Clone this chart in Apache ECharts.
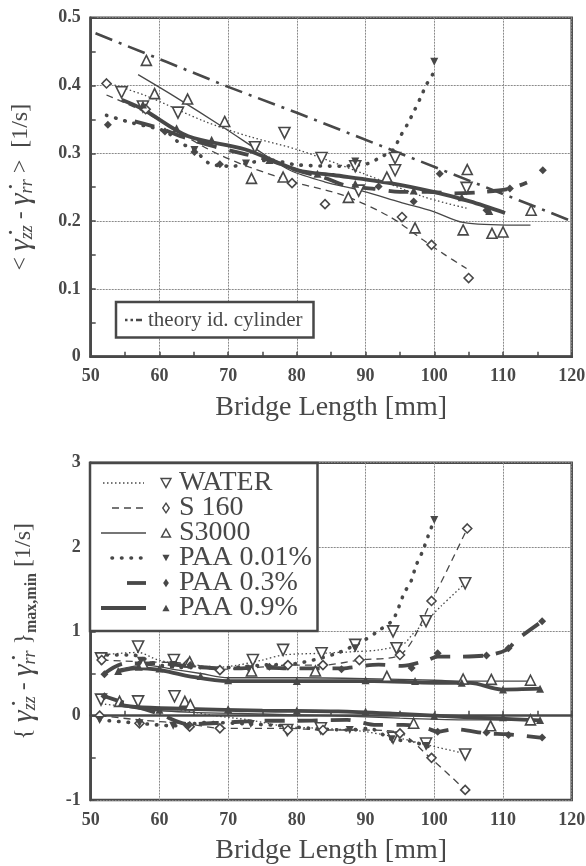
<!DOCTYPE html>
<html>
<head>
<meta charset="utf-8">
<script src="https://cdn.jsdelivr.net/npm/echarts@6/dist/echarts.min.js"></script>
<style>
html, body { margin: 0; padding: 0; background: #fff; }
#chart { width: 586px; height: 866px; }
</style>
</head>
<body>
<div id="chart"></div>
<script>
// values: [bridge length mm, value]
const xTicks = [50, 60, 70, 80, 90, 100, 110, 120];
const legendNames = ['WATER', 'S 160', 'S3000', 'PAA 0.01%', 'PAA 0.3%', 'PAA 0.9%'];
const theoryName = 'theory id. cylinder';

// --- top: mean strain rate ---
const theoryTop = [[50.7, 0.477], [61, 0.435], [70, 0.398], [80.2, 0.359], [94.5, 0.302], [110, 0.24], [120, 0.2]];
const waterFitTop = [[51.8, 0.406], [58, 0.385], [66.6, 0.347], [73, 0.325], [80.2, 0.305], [89.7, 0.27], [98.4, 0.236], [104.7, 0.219]];
const waterPtsTop = [[54.5, 0.39], [57.6, 0.369], [62.7, 0.36], [73.9, 0.309], [78.2, 0.33], [83.6, 0.293], [88.5, 0.281], [89, 0.245], [94.3, 0.293], [94.3, 0.275], [104.7, 0.249]];
const s160FitTop = [[52.3, 0.386], [58, 0.36], [67.3, 0.305], [73, 0.28], [80.2, 0.256], [86.8, 0.238], [93.6, 0.206], [98.4, 0.172], [101.3, 0.152], [104.7, 0.13]];
const s160PtsTop = [[52.3, 0.403], [58, 0.365], [79.3, 0.256], [84.1, 0.225], [95.3, 0.206], [99.6, 0.165], [105, 0.116]];
const s3000FitTop = [[56.9, 0.416], [62, 0.385], [69.5, 0.337], [75, 0.3], [79, 0.275], [84, 0.258], [89.7, 0.244], [95, 0.228], [99.9, 0.214], [104.2, 0.198], [111.8, 0.194], [114, 0.194]];
const s3000PtsTop = [[58.1, 0.437], [59.3, 0.388], [64.1, 0.38], [69.5, 0.347], [73.4, 0.263], [78, 0.265], [87.5, 0.235], [93.1, 0.265], [97.2, 0.19], [104.2, 0.187], [104.8, 0.276], [108.4, 0.182], [110, 0.184], [114.1, 0.216]];
const paa001FitTop = [[52.3, 0.356], [56, 0.345], [61, 0.332], [62.7, 0.317], [65.1, 0.305], [67.3, 0.285], [70.7, 0.281], [72.6, 0.285], [76, 0.29], [80, 0.283], [86.3, 0.281], [90.4, 0.285], [92.1, 0.294], [94, 0.305], [95, 0.324], [96.1, 0.343], [97.1, 0.363], [98, 0.382], [98.9, 0.402], [100, 0.42]];
const paa001PtsTop = [[65.1, 0.305], [72.6, 0.285], [88.5, 0.288], [100, 0.435]];
const paa03FitTop = [[56.4, 0.347], [60, 0.337], [64, 0.322], [68, 0.31], [72, 0.3], [76, 0.29], [80, 0.275], [84, 0.264], [87.3, 0.252], [91, 0.248], [95, 0.243], [99, 0.243], [103, 0.241], [107, 0.243], [111, 0.248], [113.5, 0.257]];
const paa03PtsTop = [[52.5, 0.342], [60.8, 0.332], [65.1, 0.302], [68.8, 0.284], [91.9, 0.251], [97, 0.229], [100.8, 0.27], [107.6, 0.216], [111, 0.248], [115.8, 0.275]];
const paa09FitTop = [[54.5, 0.379], [57.6, 0.365], [64.2, 0.325], [72.4, 0.306], [80.2, 0.275], [85.3, 0.268], [93.6, 0.256], [99.9, 0.243], [105.2, 0.229], [110.3, 0.212]];
const paa09PtsTop = [[57.6, 0.372], [62.5, 0.337], [67.6, 0.32], [76, 0.29], [83, 0.27], [88.5, 0.255], [97, 0.245], [104, 0.235], [108, 0.215]];

// --- bottom: max and min branches ---
const waterMaxFit = [[51.5, 0.72], [56.9, 0.75], [59.8, 0.66], [64, 0.6], [68, 0.57], [71.4, 0.6], [75, 0.66], [78, 0.72], [83.6, 0.74], [88.5, 0.76], [92, 0.78], [95.5, 0.85], [97, 0.98], [98.8, 1.12], [101, 1.3], [104.5, 1.57]];
const waterMaxPts = [[51.5, 0.68], [56.9, 0.82], [62.1, 0.66], [73.6, 0.66], [78, 0.78], [83.6, 0.74], [88.5, 0.84], [94, 1.0], [94.5, 0.8], [98.8, 1.12], [104.5, 1.57]];
const waterMinFit = [[51.5, 0.14], [56.9, 0.1], [62, 0.08], [68, 0.0], [73, -0.05], [78.6, -0.13], [83.5, -0.15], [89, -0.18], [93.8, -0.245], [98.9, -0.345], [104.5, -0.45]];
const waterMinPts = [[51.5, 0.19], [56.9, 0.17], [62.2, 0.23], [78.6, -0.17], [83.5, -0.15], [94, -0.26], [98.8, -0.33], [104.5, -0.46]];
const s160MaxFit = [[51.6, 0.66], [57, 0.64], [64.2, 0.62], [68.8, 0.55], [74, 0.57], [78.7, 0.6], [83.8, 0.6], [89.1, 0.66], [95, 0.72], [99.6, 1.36], [104.8, 2.22]];
const s160MaxPts = [[51.6, 0.66], [64.2, 0.62], [68.8, 0.54], [78.7, 0.6], [83.8, 0.6], [89.1, 0.66], [95, 0.72], [99.6, 1.36], [104.8, 2.22]];
const s160MinFit = [[51.3, 0.0], [57.1, -0.05], [64.4, -0.1], [68.8, -0.15], [78.7, -0.15], [83.8, -0.17], [89, -0.17], [94.5, -0.19], [99.4, -0.5], [104.5, -0.88]];
const s160MinPts = [[51.3, 0.0], [57.1, -0.09], [64.4, -0.13], [68.8, -0.15], [78.7, -0.17], [83.8, -0.17], [95, -0.21], [99.6, -0.5], [104.5, -0.88]];
const s3000MaxFit = [[54, 0.55], [58, 0.6], [62, 0.55], [66, 0.5], [70, 0.45], [80, 0.45], [90, 0.44], [100, 0.42], [105, 0.41], [114, 0.41]];
const s3000MaxPts = [[57.6, 0.62], [64.4, 0.64], [73.4, 0.53], [82.7, 0.53], [93.1, 0.466], [104.2, 0.435], [108.3, 0.43], [114, 0.42]];
const s3000MinFit = [[54, 0.12], [58, 0.07], [65, 0.04], [75, 0.02], [85, 0.0], [95, -0.03], [105, -0.05], [115, -0.05]];
const s3000MinPts = [[54.2, 0.17], [63.7, 0.17], [64.5, 0.13], [97, -0.09], [108.2, -0.12], [114, -0.05]];
const paa001MaxFit = [[51, 0.72], [56, 0.72], [60, 0.6], [65, 0.57], [70, 0.57], [75, 0.6], [80, 0.62], [85.8, 0.74], [89.9, 0.9], [92.1, 1.02], [94, 1.14], [95.6, 1.45], [96.7, 1.61], [97.3, 1.77], [98.3, 1.95], [99.1, 2.13], [100, 2.32]];
const paa001MaxPts = [[57.3, 0.65], [62, 0.6], [73, 0.55], [88.5, 0.8], [100, 2.32]];
const paa001MinFit = [[51.3, -0.05], [57.1, -0.09], [62, -0.12], [67, -0.08], [73.3, -0.1], [78, -0.12], [82, -0.15], [87.7, -0.17], [90.5, -0.15], [93.8, -0.28], [96.5, -0.3], [98.9, -0.36], [100, -0.38]];
const paa001MinPts = [[51.3, -0.05], [57.1, -0.09], [62, -0.12], [73.3, -0.1], [87.7, -0.17], [93.8, -0.28], [98.9, -0.36]];
const paa03MaxFit = [[52, 0.5], [55, 0.62], [60, 0.62], [65, 0.58], [70, 0.56], [75, 0.57], [80, 0.56], [85, 0.56], [87.3, 0.565], [91.9, 0.605], [95.3, 0.59], [98.9, 0.656], [100.5, 0.7], [103, 0.7], [107.6, 0.715], [110.5, 0.78], [112, 0.9], [115.7, 1.12]];
const paa03MaxPts = [[52, 0.49], [64.5, 0.6], [76, 0.58], [86.5, 0.55], [96.7, 0.565], [100.5, 0.74], [107.6, 0.715], [110.8, 0.8], [115.7, 1.12]];
const paa03MinFit = [[52, 0.23], [55, 0.15], [60, 0.02], [64.2, -0.1], [70, -0.08], [75, -0.06], [80, -0.06], [87.3, -0.05], [91.6, -0.11], [95.5, -0.11], [98.9, -0.15], [100.5, -0.19], [103, -0.16], [107.6, -0.21], [110.5, -0.22], [115.4, -0.26]];
const paa03MinPts = [[52, 0.23], [64.2, -0.12], [100.5, -0.19], [107.6, -0.2], [110.8, -0.23], [115.7, -0.26]];
const paa09MaxFit = [[54, 0.525], [56.9, 0.565], [59.8, 0.545], [64.2, 0.47], [70, 0.41], [80.4, 0.41], [86, 0.41], [91.2, 0.41], [100, 0.39], [105.2, 0.39], [109.8, 0.31], [115.4, 0.32]];
const paa09MaxPts = [[54, 0.53], [57, 0.58], [60, 0.56], [66, 0.47], [70, 0.42], [80, 0.41], [90, 0.42], [97.2, 0.41], [104, 0.39], [110, 0.31], [115.4, 0.32]];
const paa09MinFit = [[54, 0.13], [57, 0.1], [64, 0.08], [75, 0.06], [86, 0.05], [95, 0.02], [105, -0.02], [115.4, -0.055]];
const paa09MinPts = [[54.5, 0.15], [60, 0.07], [70, 0.08], [80, 0.06], [90, 0.05], [100, 0.0], [110, -0.02], [115.4, -0.05]];

const INK = '#484848';
const FONT = "'Liberation Serif', 'DejaVu Serif', serif";

const LINE = {
    water:  { width: 1.3, type: [1.5, 2.5] },
    s160:   { width: 1.3, type: [7, 5] },
    s3000:  { width: 1.3, type: 'solid' },
    paa001: { width: 3.6, type: [0.5, 9], cap: 'round' },
    paa03:  { width: 3.8, type: [20, 13] },
    paa09:  { width: 3.8, type: 'solid' },
    theory: { width: 2.6, type: [18, 7, 3, 7] }
};
const MARK = {
    water:  { symbol: 'triangle', rotate: 180, size: 11, open: true },
    s160:   { symbol: 'diamond', rotate: 0, size: 9, open: true },
    s3000:  { symbol: 'triangle', rotate: 0, size: 10, open: true },
    paa001: { symbol: 'triangle', rotate: 180, size: 8, open: false },
    paa03:  { symbol: 'diamond', rotate: 0, size: 8, open: false },
    paa09:  { symbol: 'triangle', rotate: 0, size: 8, open: false }
};

function lineSeries(key, data, gi) {
    const ls = LINE[key];
    return {
        type: 'line', xAxisIndex: gi, yAxisIndex: gi, data: data, symbol: 'none',
        smooth: key === 'theory' ? false : 0.3, z: 2, silent: true,
        lineStyle: { color: INK, width: ls.width, type: ls.type, cap: ls.cap || 'butt' }
    };
}
function pointSeries(key, data, gi) {
    const m = MARK[key];
    return {
        type: 'scatter', xAxisIndex: gi, yAxisIndex: gi, data: data, z: 3, silent: true,
        symbol: m.symbol, symbolSize: m.size, symbolRotate: m.rotate,
        itemStyle: { color: m.open ? '#fff' : INK, borderColor: INK, borderWidth: m.open ? 1.6 : 0, opacity: 1 }
    };
}

function xAxisCfg(gi, gap) {
    return {
        type: 'value', gridIndex: gi, min: 50, max: 120, interval: 10,
        name: 'Bridge Length [mm]', nameLocation: 'middle', nameGap: gap,
        nameTextStyle: { fontFamily: FONT, fontSize: 28, color: INK },
        axisLine: { lineStyle: { color: INK, width: 2.5 } },
        axisTick: { inside: true, length: 5, lineStyle: { color: INK, width: 1.5 } },
        minorTick: { show: true, splitNumber: 2, length: 5, lineStyle: { color: INK, width: 1.5 } },
        axisLabel: { fontFamily: FONT, fontWeight: 'bold', fontSize: 18, color: INK, margin: 11,
            formatter: v => xTicks.indexOf(v) >= 0 ? String(v) : '' },
        splitLine: { show: true, lineStyle: { color: '#8a8a8a', width: 1, type: [2, 1] } }
    };
}
const richY = {
    t: { fontFamily: FONT, fontSize: 24, color: INK, lineHeight: 32, verticalAlign: 'middle' },
    g: { fontFamily: FONT, fontSize: 30, fontStyle: 'italic', color: INK, lineHeight: 32, verticalAlign: 'middle' },
    s: { fontFamily: FONT, fontSize: 18, fontStyle: 'italic', color: INK, lineHeight: 20, verticalAlign: 'bottom' },
    m: { fontFamily: FONT, fontSize: 16, fontWeight: 'bold', color: INK, lineHeight: 20, verticalAlign: 'bottom' }
};
function yAxisCfg(gi, min, max, interval, name, gap) {
    return {
        type: 'value', gridIndex: gi, min: min, max: max, interval: interval,
        name: name, nameLocation: 'middle', nameGap: gap, nameRotate: 90,
        nameTextStyle: { fontFamily: FONT, fontSize: 24, color: INK, lineHeight: 32, rich: richY },
        axisLine: { show: true, lineStyle: { color: INK, width: 2.5 } },
        axisTick: { show: true, inside: true, length: 5, lineStyle: { color: INK, width: 1.5 } },
        minorTick: { show: true, splitNumber: 2, length: 5, lineStyle: { color: INK, width: 1.5 } },
        axisLabel: { fontFamily: FONT, fontWeight: 'bold', fontSize: 18, color: INK, margin: 10 },
        splitLine: { show: true, lineStyle: { color: '#8a8a8a', width: 1, type: [2, 1] } }
    };
}

// legend drawn as graphic (line sample + marker + label, like the figure)
function markShape(key, cx, cy) {
    const m = MARK[key];
    const s = m.size * 0.45;
    let pts;
    if (m.symbol === 'diamond') pts = [[cx, cy - s * 1.2], [cx + s * 0.8, cy], [cx, cy + s * 1.2], [cx - s * 0.8, cy]];
    else if (m.rotate === 180) pts = [[cx - s, cy - s * 0.9], [cx + s, cy - s * 0.9], [cx, cy + s * 0.9]];
    else pts = [[cx - s, cy + s * 0.9], [cx + s, cy + s * 0.9], [cx, cy - s * 0.9]];
    return { type: 'polygon', z: 101, shape: { points: pts },
        style: { fill: m.open ? '#fff' : INK, stroke: INK, lineWidth: m.open ? 1.4 : 0 } };
}
const legendKeys = ['water', 's160', 's3000', 'paa001', 'paa03', 'paa09'];
const sampleX = { water: [103, 144], s160: [112, 146], s3000: [101, 146], paa001: [112, 144], paa03: [127, 146], paa09: [101, 146] };
const graphics = [
    { type: 'rect', z: 100, shape: { x: 90, y: 463, width: 227.5, height: 168 },
      style: { fill: '#fff', stroke: INK, lineWidth: 2.5 } },
    { type: 'rect', z: 100, shape: { x: 116, y: 302, width: 197.5, height: 35.5 },
      style: { fill: '#fff', stroke: INK, lineWidth: 2.5 } },
    { type: 'line', z: 101, shape: { x1: 125, y1: 320, x2: 142, y2: 320 },
      style: { stroke: INK, lineWidth: 2.6, lineDash: [2.5, 3, 2.5, 3, 6, 10] } },
    { type: 'text', z: 101, x: 148, y: 320,
      style: { text: theoryName, fontFamily: FONT, fontSize: 21, fill: INK, verticalAlign: 'middle' } }
];
legendKeys.forEach((k, i) => {
    const cy = 482 + i * 25;
    const ls = LINE[k];
    graphics.push({ type: 'line', z: 101, shape: { x1: sampleX[k][0], y1: cy + 1, x2: sampleX[k][1], y2: cy + 1 },
        style: { stroke: INK, lineWidth: ls.width, lineDash: ls.type === 'solid' ? null : ls.type, lineCap: ls.cap || 'butt' } });
    graphics.push(markShape(k, 166, cy + 1));
    graphics.push({ type: 'text', z: 101, x: 179, y: cy + 1,
        style: { text: legendNames[i], fontFamily: FONT, fontSize: 28, fill: INK, verticalAlign: 'middle' } });
});

const series = [
    lineSeries('theory', theoryTop, 0),
    lineSeries('water', waterFitTop, 0), pointSeries('water', waterPtsTop, 0),
    lineSeries('s160', s160FitTop, 0), pointSeries('s160', s160PtsTop, 0),
    lineSeries('s3000', s3000FitTop, 0), pointSeries('s3000', s3000PtsTop, 0),
    lineSeries('paa001', paa001FitTop, 0), pointSeries('paa001', paa001PtsTop, 0),
    lineSeries('paa03', paa03FitTop, 0), pointSeries('paa03', paa03PtsTop, 0),
    lineSeries('paa09', paa09FitTop, 0), pointSeries('paa09', paa09PtsTop, 0),

    lineSeries('water', waterMaxFit, 1), pointSeries('water', waterMaxPts, 1),
    lineSeries('water', waterMinFit, 1), pointSeries('water', waterMinPts, 1),
    lineSeries('s160', s160MaxFit, 1), pointSeries('s160', s160MaxPts, 1),
    lineSeries('s160', s160MinFit, 1), pointSeries('s160', s160MinPts, 1),
    lineSeries('s3000', s3000MaxFit, 1), pointSeries('s3000', s3000MaxPts, 1),
    lineSeries('s3000', s3000MinFit, 1), pointSeries('s3000', s3000MinPts, 1),
    lineSeries('paa001', paa001MaxFit, 1), pointSeries('paa001', paa001MaxPts, 1),
    lineSeries('paa001', paa001MinFit, 1), pointSeries('paa001', paa001MinPts, 1),
    lineSeries('paa03', paa03MaxFit, 1), pointSeries('paa03', paa03MaxPts, 1),
    lineSeries('paa03', paa03MinFit, 1), pointSeries('paa03', paa03MinPts, 1),
    lineSeries('paa09', paa09MaxFit, 1), pointSeries('paa09', paa09MaxPts, 1),
    lineSeries('paa09', paa09MinFit, 1), pointSeries('paa09', paa09MinPts, 1)
];

const chart = echarts.init(document.getElementById('chart'), null, { renderer: 'canvas' });
chart.setOption({
    backgroundColor: '#fff',
    animation: false,
    textStyle: { fontFamily: FONT },
    grid: [
        { left: 90.7, top: 17.7, width: 481, height: 339, show: true, borderColor: INK, borderWidth: 2.5, outerBoundsMode: 'none' },
        { left: 90.7, top: 462.7, width: 481, height: 337.3, show: true, borderColor: INK, borderWidth: 2.5, outerBoundsMode: 'none' }
    ],
    xAxis: [xAxisCfg(0, 37), xAxisCfg(1, 37)],
    yAxis: [
        yAxisCfg(0, 0, 0.5, 0.1, '{t|< }{g|γ̇}{s|zz}{t| - }{g|γ̇}{s|rr}{t| >  [1/s]}', 54),
        yAxisCfg(1, -1, 3, 1, '{t|{ }{g|γ̇}{s|zz}{t| - }{g|γ̇}{s|rr}{t| }}{m|max,min}{t| [1/s]}', 51)
    ],
    graphic: graphics,
    series: series
});
</script>
</body>
</html>
